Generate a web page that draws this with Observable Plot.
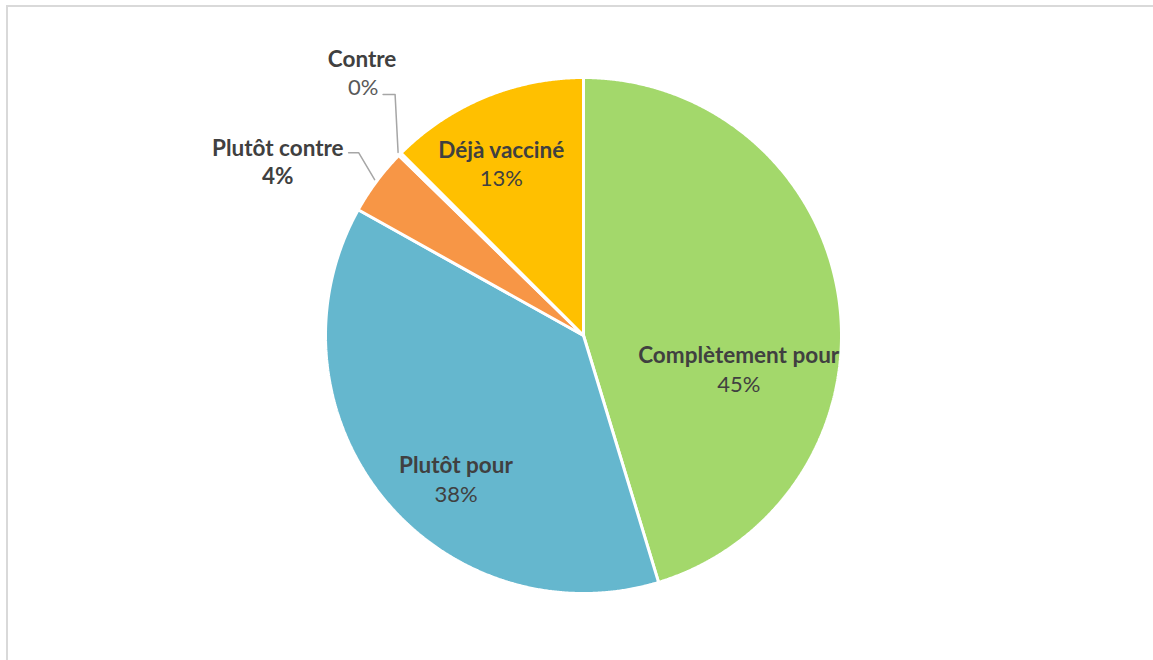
<!DOCTYPE html>
<html>
<head>
<meta charset="utf-8">
<script src="https://cdn.jsdelivr.net/npm/d3@7"></script>
<script src="https://cdn.jsdelivr.net/npm/@observablehq/plot@0.6"></script>
<style>
  html, body { margin: 0; padding: 0; background: #fff; overflow: hidden; }
  #frame { position: absolute; left: 6px; top: 5px; width: 1200px; height: 720px;
           border-left: 2px solid #d9d9d9; border-top: 2px solid #d9d9d9; }
  #chart { position: absolute; left: 0; top: 0; }
</style>
</head>
<body>
<div id="frame"></div>
<div id="chart"></div>
<script>
// ---- data ----
const categories = ["Complètement pour", "Plutôt pour", "Plutôt contre", "Contre", "Déjà vacciné"];
const values = [45.3, 37.8, 4.2, 0.2, 12.5];
const colors = ["#A3D86B", "#65B7CE", "#F79646", "#C0504D", "#FFC000"];

// ---- layout ----
const W = 1153, H = 660, cx = 583, cy = 335, R = 258;
const data = categories.map((c, i) => ({category: c, value: values[i], color: colors[i]}));
const arcs = d3.pie().sort(null).value(d => d.value)(data);
const pt = (a, r) => ({x: cx + r * Math.sin(a), y: cy - r * Math.cos(a)});

const slicePolys = arcs.map(a => {
  const pts = [pt(0, 0)];
  const n = Math.max(2, Math.ceil((a.endAngle - a.startAngle) / 0.005));
  for (let k = 0; k <= n; k++) pts.push(pt(a.startAngle + (a.endAngle - a.startAngle) * k / n, R));
  pts.push(pt(0, 0));
  return {color: a.data.color, pts};
});

const mid = a => (a.startAngle + a.endAngle) / 2;
const anchor = (cat, k) => { const a = arcs[categories.indexOf(cat)]; return {...pt(mid(a), R * k), ...a.data}; };
const pctText = d => Math.round(d.value) + "%";

const FONT = "Lato, 'Open Sans', sans-serif";
const TXT = "#404040";
const nameOpts = {fontFamily: FONT, fontSize: 22.5, fontWeight: "bold", fill: TXT};
const pctOpts = {fontFamily: FONT, fontSize: 22, fill: TXT};

const inside = [
  {cat: "Complètement pour", dx: -3, dyName: 44, dyPct: 73},
  {cat: "Plutôt pour", dx: -3, dyName: 30, dyPct: 59},
  {cat: "Déjà vacciné", dx: -21, dyName: -37, dyPct: -9}
];

const marks = [];
slicePolys.forEach(s => {
  marks.push(Plot.line(s.pts, {x: "x", y: "y", fill: s.color, stroke: "white", strokeWidth: 3, strokeLinejoin: "miter"}));
});
inside.forEach(l => {
  const p = anchor(l.cat, 0.62);
  marks.push(Plot.text([p], {x: "x", y: "y", text: "category", dx: l.dx, dy: l.dyName, ...nameOpts}));
  marks.push(Plot.text([p], {x: "x", y: "y", text: pctText, dx: l.dx, dy: l.dyPct, ...pctOpts}));
});

// outside labels with leader lines
const pc = anchor("Plutôt contre", 1.01);
marks.push(Plot.line([pc, {x: pc.x - 16, y: pc.y - 27}, {x: pc.x - 26, y: pc.y - 27}],
  {x: "x", y: "y", stroke: "#A6A6A6", strokeWidth: 1.5}));
marks.push(Plot.text([pc], {x: "x", y: "y", text: "category", dx: -31, dy: -31, textAnchor: "end", ...nameOpts}));
marks.push(Plot.text([pc], {x: "x", y: "y", text: pctText, dx: -97, dy: -3, ...nameOpts}));

const co = anchor("Contre", 1.01);
marks.push(Plot.line([co, {x: co.x - 3, y: co.y - 58}, {x: co.x - 15, y: co.y - 58}],
  {x: "x", y: "y", stroke: "#A6A6A6", strokeWidth: 1.5}));
marks.push(Plot.text([co], {x: "x", y: "y", text: "category", dx: -36, dy: -93, ...nameOpts}));
marks.push(Plot.text([co], {x: "x", y: "y", text: pctText, dx: -35, dy: -64, ...pctOpts, fill: "#595959"}));

const chart = Plot.plot({
  width: W, height: H, margin: 0,
  x: {domain: [0, W], range: [0, W], axis: null},
  y: {domain: [0, H], range: [0, H], axis: null},
  style: {background: "transparent"},
  marks
});
document.getElementById("chart").appendChild(chart);
</script>
</body>
</html>
